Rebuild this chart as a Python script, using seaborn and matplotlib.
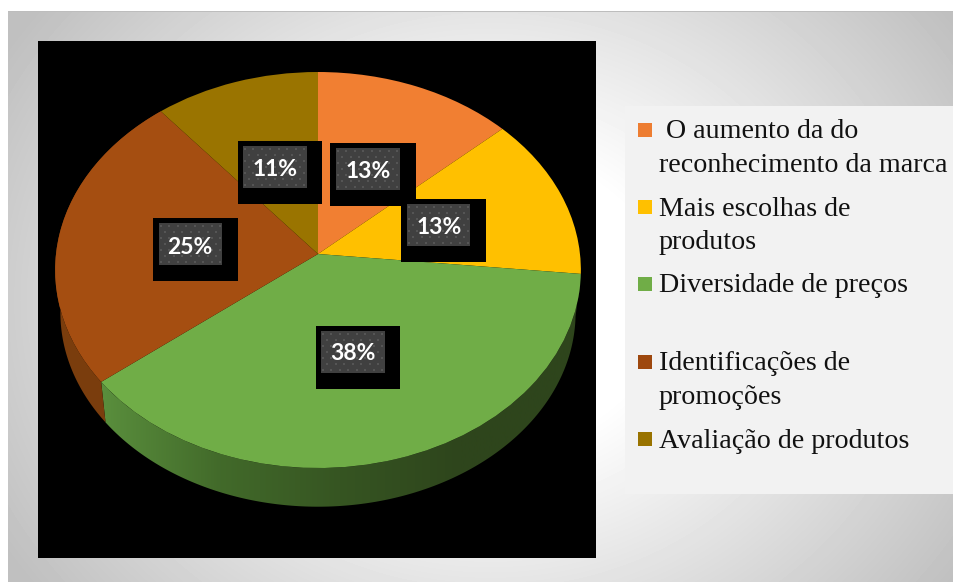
import numpy as np
import matplotlib
matplotlib.use("Agg")
import matplotlib.pyplot as plt
from matplotlib.patches import Rectangle, Polygon
from matplotlib.transforms import Transform
from matplotlib.colors import LinearSegmentedColormap
import seaborn as sns

categories = [" O aumento da do\nreconhecimento da marca", "Mais escolhas de\nprodutos",
              "Diversidade de preços", "Identificações de\npromoções", "Avaliação de produtos"]
shares = [13.3, 13.3, 37.8, 24.6, 11.0]
face_colors = ["#F17F32", "#FFC000", "#70AD47", "#A54E11", "#9A7400"]
swatch_colors = ["#ED7D31", "#FFC000", "#70AD47", "#9E480E", "#997300"]

W, H = 954, 582
sns.set_theme(style="white")
palette = sns.color_palette(face_colors)

CX, CY = 318.0, 254.0
RX, A, B = 262.0, 196.7, 0.0808
DEPTH, SHRINK = 43.0, 0.98


class Perspective(Transform):
    input_dims = output_dims = 2
    has_inverse = False

    def __init__(self, scale=1.0, drop=0.0):
        super().__init__()
        self.scale, self.drop = scale, drop

    def transform_non_affine(self, xy):
        xy = np.asarray(xy, float)
        w = 1 + B * xy[:, 1]
        return np.column_stack((CX + self.scale * RX * xy[:, 0] / w,
                                CY + self.drop - self.scale * A * xy[:, 1] / w))


fig = plt.figure(figsize=(W / 100, H / 100), dpi=100)

# Slide background
bg = fig.add_axes([0, 0, 1, 1])
bg.set_xlim(0, W)
bg.set_ylim(H, 0)
bg.axis("off")
gx, gy = np.meshgrid(np.arange(W), np.arange(H))
r = np.hypot((gx - 490) / 1.0, (gy - 300) / 0.85)
level = 1 - 0.25 * np.clip((r - 170) / 400, 0, 1)
cmap = LinearSegmentedColormap.from_list("g", ["#000000", "#ffffff"])
im = bg.imshow(level, cmap=cmap, vmin=0, vmax=1, extent=(0, W, H, 0), aspect="auto", zorder=0)
bg.add_patch(Rectangle((0, 0), W, 11, fc="white", ec="none", zorder=1))
bg.add_patch(Rectangle((0, 0), 8.5, H, fc="white", ec="none", zorder=1))
bg.add_patch(Rectangle((8.5, 11), W, 1, fc="#bdbdbd", ec="none", zorder=1))

# Legend panel
bg.add_patch(Rectangle((625, 106), 328, 388, fc="#F2F2F2", ec="none", zorder=2))
entry_y = [130, 207, 284, 362, 439]
for label, colour, y in zip(categories, swatch_colors, entry_y):
    bg.add_patch(Rectangle((638, y - 7), 14, 14, fc=colour, ec="none", zorder=3))
    bg.text(659, y - 10.5, label, family="Liberation Serif", fontsize=20.2, color="#111111",
            va="top", ha="left", linespacing=1.43, zorder=3)

# Chart panel
ax = fig.add_axes([38 / W, 1 - 558 / H, 558 / W, 517 / H], zorder=2)
wedges, _, autotexts = ax.pie(shares, colors=palette, startangle=90, counterclock=False,
                              autopct="%.0f%%", wedgeprops=dict(linewidth=0))
ax.set_aspect("auto")
ax.set_frame_on(True)
ax.set_facecolor("black")
ax.set_xticks([])
ax.set_yticks([])
for s in ax.spines.values():
    s.set_visible(False)

top = Perspective()
low = Perspective(SHRINK, DEPTH)
for w in wedges:
    w.set_transform(top + ax.transData)
    w.set_zorder(2)


def side_polygon(wedge):
    t = np.radians(np.linspace(wedge.theta1, wedge.theta2, 200))
    rim = np.column_stack((np.cos(t), np.sin(t)))
    return np.vstack((top.transform_non_affine(rim), low.transform_non_affine(rim)[::-1]))


# Side of the green slice: shaded from left to right
green_side = Polygon(side_polygon(wedges[2]), closed=True, fc="none", ec="none",
                     transform=ax.transData)
ax.add_patch(green_side)
gcmap = LinearSegmentedColormap.from_list("gs", ["#5A8F3D", "#426A2A", "#365522", "#2E451C", "#2E451C"])
gi = ax.imshow(np.linspace(0, 1, 256)[None, :], cmap=gcmap, extent=(100, 580, 558, 41),
               aspect="auto", zorder=1)
gi.set_clip_path(green_side)
# Side of the brown slice
ax.add_patch(Polygon(side_polygon(wedges[3]), closed=True, fc="#7A3D0D", ec="none", zorder=1))
ax.set_xlim(38, 596)
ax.set_ylim(558, 41)
ax.set_aspect("auto")

# Data labels: black box, dotted dark tile, white percentage
outer_boxes = [(330, 143, 86, 63), (401, 199, 85, 63), (316, 326, 84, 63), (153, 218, 85, 63), (238, 141, 84, 63)]
inner_boxes = [(336, 148, 64, 42), (407, 204, 63, 42), (321, 331, 64, 42), (159, 223, 63, 42), (243, 146, 64, 42)]
text_pos = [(368, 171), (439, 227), (353, 354), (190, 247), (275, 169)]
for o, i, p, t in zip(outer_boxes, inner_boxes, text_pos, autotexts):
    ax.add_patch(Rectangle(o[:2], o[2], o[3], fc="black", ec="none", zorder=3))
    tile = Rectangle(i[:2], i[2], i[3], fc="#404040", ec="none", zorder=4)
    ax.add_patch(tile)
    rows = np.arange(i[1] + 3, i[1] + i[3], 6.0)
    for n, yy in enumerate(rows):
        xs = np.arange(i[0] + 2 + (n % 2) * 4.25, i[0] + i[2], 8.5)
        ax.scatter(xs, np.full_like(xs, yy), s=2.2, marker="s", color="#555555", linewidths=0, zorder=4.5)
    t.set_position(p)
    t.set(color="white", family="Lato", fontweight="bold", fontsize=16.5, ha="center", va="center", zorder=5)

ax.set_xlim(38, 596)
ax.set_ylim(558, 41)
fig.savefig("out.png", dpi=100)
